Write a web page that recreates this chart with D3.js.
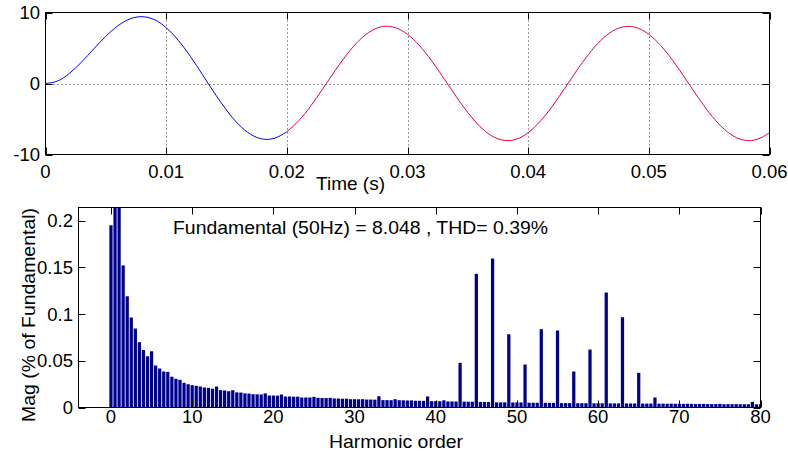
<!DOCTYPE html>
<html>
<head>
<meta charset="utf-8">
<script src="https://cdn.jsdelivr.net/npm/d3@7"></script>
<style>
  html, body { margin: 0; padding: 0; background: #fff; }
  svg { display: block; font-family: "Liberation Sans", Arial, sans-serif; }
</style>
</head>
<body>
<svg id="chart" width="788" height="453"></svg>
<script>
// ---------- DATA ----------
const timeS = [0,0.001,0.002,0.003,0.004,0.005,0.006,0.007,0.008,0.009,
  0.010,0.011,0.012,0.013,0.014,0.015,0.016,0.017,0.018,0.019,
  0.020,0.021,0.022,0.023,0.024,0.025,0.026,0.027,0.028,0.029,
  0.030,0.031,0.032,0.033,0.034,0.035,0.036,0.037,0.038,0.039,
  0.040,0.041,0.042,0.043,0.044,0.045,0.046,0.047,0.048,0.049,
  0.050,0.051,0.052,0.053,0.054,0.055,0.056,0.057,0.058,0.059,0.060];
const signal = [0.00,0.35,1.45,3.04,4.87,6.65,8.13,9.10,9.41,9.01,
  7.87,6.09,3.83,1.27,-1.34,-3.75,-5.76,-7.16,-7.82,-7.70,
  -6.80,-5.22,-3.12,-0.69,1.82,4.15,6.08,7.42,8.04,7.86,
  6.93,5.32,3.20,0.76,-1.76,-4.10,-6.04,-7.39,-8.01,-7.86,
  -6.93,-5.32,-3.20,-0.76,1.76,4.10,6.04,7.39,8.01,7.86,
  6.93,5.32,3.20,0.76,-1.76,-4.10,-6.04,-7.39,-8.01,-7.86,-6.93];
const fftWindowStart = 0.02;

const harmonicOrder = [0,0.5,1,1.5,2,2.5,3,3.5,4,4.5,5,5.5,6,6.5,7,7.5,8,8.5,9,9.5,
  10,10.5,11,11.5,12,12.5,13,13.5,14,14.5,15,15.5,16,16.5,17,17.5,18,18.5,19,19.5,
  20,20.5,21,21.5,22,22.5,23,23.5,24,24.5,25,25.5,26,26.5,27,27.5,28,28.5,29,29.5,
  30,30.5,31,31.5,32,32.5,33,33.5,34,34.5,35,35.5,36,36.5,37,37.5,38,38.5,39,39.5,
  40,40.5,41,41.5,42,42.5,43,43.5,44,44.5,45,45.5,46,46.5,47,47.5,48,48.5,49,49.5,
  50,50.5,51,51.5,52,52.5,53,53.5,54,54.5,55,55.5,56,56.5,57,57.5,58,58.5,59,59.5,
  60,60.5,61,61.5,62,62.5,63,63.5,64,64.5,65,65.5,66,66.5,67,67.5,68,68.5,69,69.5,
  70,70.5,71,71.5,72,72.5,73,73.5,74,74.5,75,75.5,76,76.5,77,77.5,78,78.5,79,79.5,80];
const magPct = [
  0.195,0.29,100,0.152,0.119,0.0963,0.0845,0.0699,0.0615,0.0548,0.0602,0.0449,0.0417,0.0385,0.0381,0.0329,0.0307,0.0296,0.0264,0.0249,
  0.0239,0.0232,0.0225,0.0214,0.0210,0.0201,0.0224,0.0186,0.0182,0.0174,0.0185,0.0162,0.0160,0.0151,0.0149,0.0142,0.0141,0.0140,0.0151,0.0128,
  0.0128,0.0127,0.0139,0.0118,0.0118,0.0116,0.0116,0.0107,0.0107,0.0107,0.0114,0.0104,0.0102,0.0101,0.0103,0.0097,0.0096,0.0094,0.0094,0.0089,
  0.0089,0.0088,0.0089,0.0085,0.0085,0.0084,0.0121,0.0079,0.0079,0.0078,0.0089,0.0078,0.0077,0.0075,0.0076,0.0072,0.0072,0.0071,0.0118,0.0068,
  0.0068,0.0067,0.0077,0.0065,0.0065,0.0064,0.0478,0.0063,0.0062,0.0062,0.1430,0.0059,0.0059,0.0059,0.1594,0.0055,0.0055,0.0055,0.0784,0.0054,
  0.0054,0.0054,0.0460,0.0051,0.0051,0.0051,0.0838,0.0050,0.0050,0.0050,0.0824,0.0047,0.0047,0.0047,0.0385,0.0046,0.0046,0.0046,0.0620,0.0045,
  0.0045,0.0045,0.1230,0.0044,0.0044,0.0044,0.0966,0.0043,0.0043,0.0043,0.0371,0.0042,0.0042,0.0042,0.0107,0.0041,0.0041,0.0040,0.0041,0.0040,
  0.0040,0.0039,0.0040,0.0039,0.0038,0.0038,0.0039,0.0037,0.0037,0.0037,0.0039,0.0036,0.0036,0.0036,0.0037,0.0035,0.0035,0.0035,0.0060,0.0034,0.0034];

const timeTicks = [0,0.01,0.02,0.03,0.04,0.05,0.06];
const timeTickLabels = ["0","0.01","0.02","0.03","0.04","0.05","0.06"];
const sigTicks = [-10,0,10];
const sigTickLabels = ["-10","0","10"];
const orderTicks = [0,10,20,30,40,50,60,70,80];
const orderTickLabels = ["0","10","20","30","40","50","60","70","80"];
const magTicks = [0,0.05,0.1,0.15,0.2];
const magTickLabels = ["0","0.05","0.1","0.15","0.2"];

const titleText = "Fundamental (50Hz) = 8.048 , THD= 0.39%";
const timeLabel = "Time (s)";
const orderLabel = "Harmonic order";
const magLabel = "Mag (% of Fundamental)";

// ---------- LAYOUT ----------
const svg = d3.select("#chart");
const FS = 18.5;
const TICK = 7;

// Top plot
const T = {x0: 45.5, x1: 769.5, y0: 12.5, y1: 154.5};
const xT = d3.scaleLinear().domain([0, 0.06]).range([T.x0, T.x1]);
const yT = d3.scaleLinear().domain([-10, 10]).range([T.y1, T.y0]);

// Bottom plot
const B = {x0: 78.5, x1: 760.5, y0: 207.5, y1: 407.5};
const xB = d3.scaleLinear().domain([-4, 80]).range([B.x0, B.x1]);
const yB = d3.scaleLinear().domain([0, 0.214]).range([B.y1, B.y0]);

const defs = svg.append("defs");
defs.append("clipPath").attr("id", "clipT").append("rect")
  .attr("x", T.x0).attr("y", T.y0).attr("width", T.x1 - T.x0).attr("height", T.y1 - T.y0);
defs.append("clipPath").attr("id", "clipB").append("rect")
  .attr("x", B.x0).attr("y", B.y0).attr("width", B.x1 - B.x0).attr("height", B.y1 - B.y0);

// ---------- TOP PLOT ----------
const gT = svg.append("g");
// grid
gT.selectAll("line.gx").data(timeTicks.slice(1, -1)).enter().append("line")
  .attr("x1", d => Math.round(xT(d)) + 0.5).attr("x2", d => Math.round(xT(d)) + 0.5)
  .attr("y1", T.y0).attr("y2", T.y1)
  .attr("stroke", "#333").attr("stroke-width", 1).attr("stroke-dasharray", "1,3");
gT.selectAll("line.gy").data([0]).enter().append("line")
  .attr("x1", T.x0).attr("x2", T.x1)
  .attr("y1", d => Math.round(yT(d)) + 0.5).attr("y2", d => Math.round(yT(d)) + 0.5)
  .attr("stroke", "#333").attr("stroke-width", 1).attr("stroke-dasharray", "1,3");

const pts = timeS.map((t, i) => ({t, v: signal[i]}));
const line = d3.line().x(d => xT(d.t)).y(d => yT(d.v)).curve(d3.curveNatural);
const gLines = gT.append("g").attr("clip-path", "url(#clipT)");
gLines.append("path").datum(pts.filter(d => d.t <= fftWindowStart + 1e-9))
  .attr("d", line).attr("fill", "none").attr("stroke", "#0000ff").attr("stroke-width", 1);
gLines.append("path").datum(pts.filter(d => d.t >= fftWindowStart - 1e-9))
  .attr("d", line).attr("fill", "none").attr("stroke", "#e8003a").attr("stroke-width", 1);

// box
gT.append("rect").attr("x", T.x0).attr("y", T.y0).attr("width", T.x1 - T.x0).attr("height", T.y1 - T.y0)
  .attr("fill", "none").attr("stroke", "#000").attr("stroke-width", 1);
// ticks
timeTicks.forEach(d => {
  const x = Math.round(xT(d)) + 0.5;
  gT.append("line").attr("x1", x).attr("x2", x).attr("y1", T.y1).attr("y2", T.y1 - TICK).attr("stroke", "#000");
  gT.append("line").attr("x1", x).attr("x2", x).attr("y1", T.y0).attr("y2", T.y0 + TICK).attr("stroke", "#000");
});
sigTicks.forEach(d => {
  const y = Math.round(yT(d)) + 0.5;
  gT.append("line").attr("x1", T.x0).attr("x2", T.x0 + TICK).attr("y1", y).attr("y2", y).attr("stroke", "#000");
  gT.append("line").attr("x1", T.x1).attr("x2", T.x1 - TICK).attr("y1", y).attr("y2", y).attr("stroke", "#000");
});
// tick labels
gT.selectAll("text.tx").data(timeTicks).enter().append("text")
  .attr("x", d => xT(d)).attr("y", 178).attr("text-anchor", "middle")
  .attr("font-size", FS).text((d, i) => timeTickLabels[i]);
gT.selectAll("text.ty").data(sigTicks).enter().append("text")
  .attr("x", 40).attr("y", d => yT(d) + 6.5).attr("text-anchor", "end")
  .attr("font-size", FS).text((d, i) => sigTickLabels[i]);
gT.append("text").attr("x", 316).attr("y", 189.5).attr("font-size", FS)
  .attr("textLength", 69).attr("lengthAdjust", "spacingAndGlyphs").text(timeLabel);

// ---------- BOTTOM PLOT ----------
const gB = svg.append("g");
const barW = xB(0.4) - xB(0);
gB.append("g").attr("clip-path", "url(#clipB)")
  .selectAll("rect").data(harmonicOrder.map((h, i) => ({h, m: magPct[i]}))).enter().append("rect")
  .attr("x", d => xB(d.h) - barW / 2)
  .attr("width", barW)
  .attr("y", d => yB(d.m))
  .attr("height", d => yB(0) - yB(d.m))
  .attr("fill", "#00008f");

gB.append("rect").attr("x", B.x0).attr("y", B.y0).attr("width", B.x1 - B.x0).attr("height", B.y1 - B.y0)
  .attr("fill", "none").attr("stroke", "#000").attr("stroke-width", 1);
orderTicks.forEach(d => {
  const x = Math.round(xB(d)) + 0.5;
  gB.append("line").attr("x1", x).attr("x2", x).attr("y1", B.y1).attr("y2", B.y1 - TICK).attr("stroke", "#000");
  gB.append("line").attr("x1", x).attr("x2", x).attr("y1", B.y0).attr("y2", B.y0 + TICK).attr("stroke", "#000");
});
magTicks.forEach(d => {
  const y = Math.round(yB(d)) + 0.5;
  gB.append("line").attr("x1", B.x0).attr("x2", B.x0 + TICK).attr("y1", y).attr("y2", y).attr("stroke", "#000");
  gB.append("line").attr("x1", B.x1).attr("x2", B.x1 - TICK).attr("y1", y).attr("y2", y).attr("stroke", "#000");
});
gB.selectAll("text.tx").data(orderTicks).enter().append("text")
  .attr("x", d => xB(d)).attr("y", 423).attr("text-anchor", "middle")
  .attr("font-size", FS).text((d, i) => orderTickLabels[i]);
gB.selectAll("text.ty").data(magTicks).enter().append("text")
  .attr("x", 73).attr("y", d => yB(d) + 6.5).attr("text-anchor", "end")
  .attr("font-size", FS).text((d, i) => magTickLabels[i]);
gB.append("text").attr("x", 329).attr("y", 448.3).attr("font-size", FS)
  .attr("textLength", 134).attr("lengthAdjust", "spacingAndGlyphs").text(orderLabel);
gB.append("text").attr("transform", "translate(34.5,315) rotate(-90)")
  .attr("text-anchor", "middle").attr("font-size", FS)
  .attr("textLength", 214).attr("lengthAdjust", "spacingAndGlyphs").text(magLabel);
gB.append("text").attr("x", 173).attr("y", 234.3).attr("font-size", FS)
  .attr("textLength", 375).attr("lengthAdjust", "spacingAndGlyphs").text(titleText);
</script>
</body>
</html>
